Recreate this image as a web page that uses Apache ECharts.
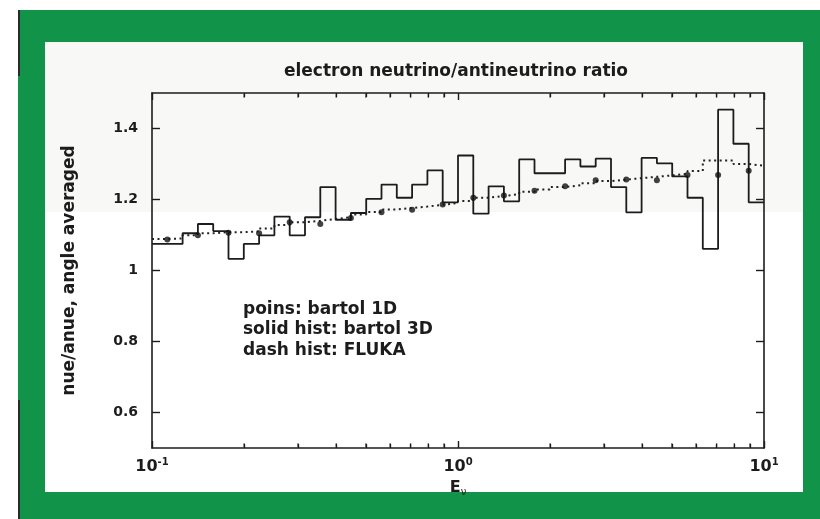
<!DOCTYPE html>
<html>
<head>
<meta charset="utf-8">
<script src="https://cdn.jsdelivr.net/npm/echarts@6/dist/echarts.min.js"></script>
<style>
  html, body { margin: 0; padding: 0; background: #ffffff; }
  #chart { width: 820px; height: 519px; }
</style>
</head>
<body>
<div id="chart"></div>
<script>
// Energy binning: 20 logarithmic bins per decade starting at 0.1
const lowEdge = 0.1;
const binsPerDecade = 20;

// Solid histogram: bartol 3D ratio per bin
const bartol3D = [
  1.075, 1.075, 1.105, 1.131, 1.111, 1.033, 1.075, 1.099, 1.152, 1.099,
  1.150, 1.235, 1.143, 1.162, 1.202, 1.242, 1.205, 1.242, 1.282, 1.192,
  1.324, 1.160, 1.237, 1.195, 1.313, 1.274, 1.274, 1.313, 1.293, 1.315,
  1.235, 1.164, 1.317, 1.302, 1.265, 1.205, 1.061, 1.453, 1.357, 1.192
];

// Dotted histogram: FLUKA ratio per bin
const fluka = [
  1.089, 1.090, 1.099, 1.105, 1.108, 1.108, 1.110, 1.118, 1.128, 1.136,
  1.140, 1.145, 1.150, 1.158, 1.165, 1.172, 1.176, 1.180, 1.185, 1.190,
  1.196, 1.205, 1.210, 1.215, 1.222, 1.228, 1.235, 1.240, 1.246, 1.252,
  1.256, 1.260, 1.264, 1.268, 1.272, 1.280, 1.310, 1.310, 1.300, 1.295
];

// Points: bartol 1D, one every two bins
const bartol1D = [
  1.087, 1.099, 1.106, 1.105, 1.136, 1.131, 1.148, 1.164, 1.171, 1.186,
  1.205, 1.211, 1.225, 1.237, 1.254, 1.256, 1.254, 1.269, 1.269, 1.281
];

// Axis ticks
const yTicks = [0.6, 0.8, 1, 1.2, 1.4];
const yMin = 0.5, yMax = 1.5;
const xMin = 0.1, xMax = 10;
const xMinorTicks = [0.2, 0.3, 0.4, 0.5, 0.6, 0.7, 0.8, 0.9, 2, 3, 4, 5, 6, 7, 8, 9];

const legendLines = ['poins: bartol 1D', 'solid hist: bartol 3D', 'dash hist: FLUKA'];

const FONT = 'DejaVu Sans';
const INK = '#1c1c1c';

function binEdge(k) {
  return lowEdge * Math.pow(10, k / binsPerDecade);
}

// Step data: left edge of every bin, plus the closing right edge
function stepData(values) {
  const out = values.map((v, k) => [binEdge(k), v]);
  out.push([binEdge(values.length), values[values.length - 1]]);
  return out;
}

const pointData = bartol1D.map((v, k) => [binEdge(2 * k + 1), v]);

// Minor log ticks: helper axes running over log10(E), each tied to a placeholder series
const minorTickExponents = xMinorTicks.map(v => Math.log10(v));

function minorTickAxis(position) {
  return {
    type: 'value',
    position: position,
    min: Math.log10(xMin), max: Math.log10(xMax),
    axisLine: { show: false },
    axisTick: { show: true, inside: true, length: 4, customValues: minorTickExponents, lineStyle: { color: INK, width: 1.3 } },
    axisLabel: { show: false },
    splitLine: { show: false }
  };
}

function helperAxisSeries(xIndex) {
  return {
    type: 'line',
    xAxisIndex: xIndex, yAxisIndex: 0,
    data: [[0, 1]],
    showSymbol: false,
    lineStyle: { opacity: 0 },
    silent: true
  };
}

// Short bars standing on the frame lines at the same minor positions
function minorTickMarks(yValue, offsetY) {
  return {
    type: 'scatter',
    xAxisIndex: 0, yAxisIndex: 0,
    data: xMinorTicks.map(v => [v, yValue]),
    symbol: 'rect',
    symbolSize: [1.3, 4],
    symbolOffset: [0, offsetY],
    itemStyle: { color: INK },
    silent: true,
    z: 6
  };
}

const chart = echarts.init(document.getElementById('chart'), null, { renderer: 'canvas' });

const axisLineStyle = { lineStyle: { color: INK, width: 1.6 } };

chart.setOption({
  animation: false,
  backgroundColor: '#ffffff',
  graphic: [
    { type: 'rect', z: -10, shape: { x: 18, y: 10, width: 802, height: 509 }, style: { fill: '#119449' } },
    { type: 'rect', z: -9, shape: { x: 45, y: 42, width: 758, height: 450 }, style: { fill: '#ffffff' } },
    { type: 'rect', z: -8, shape: { x: 45, y: 42, width: 758, height: 170 }, style: { fill: '#f8f8f6' } },
    { type: 'rect', z: -7, shape: { x: 18, y: 10, width: 2, height: 66 }, style: { fill: '#2a2a2a' } },
    { type: 'rect', z: -7, shape: { x: 18, y: 400, width: 2, height: 119 }, style: { fill: '#2a2a2a' } },
    {
      type: 'text', z: 10, x: 456, y: 63,
      style: { text: 'electron neutrino/antineutrino ratio', font: 'bold 17px "' + FONT + '"', fill: INK, textAlign: 'center', textVerticalAlign: 'top' }
    },
    {
      type: 'text', z: 10, x: 243, y: 299,
      style: { text: legendLines.join('\n'), font: 'bold 17px "' + FONT + '"', lineHeight: 20.5, fill: INK, textAlign: 'left', textVerticalAlign: 'top' }
    }
  ],
  grid: { left: 152, right: 56, top: 93, bottom: 71, containLabel: false },
  xAxis: [
    {
      type: 'log', logBase: 10, min: xMin, max: xMax, position: 'bottom',
      axisLine: axisLineStyle,
      axisTick: { inside: true, length: 7, lineStyle: { color: INK, width: 1.4 } },
      splitLine: { show: false },
      axisLabel: {
        margin: 9,
        formatter: function (v) {
          const e = Math.round(Math.log10(v));
          return '{b|10}{s|' + e + '}';
        },
        rich: {
          b: { fontFamily: FONT, fontWeight: 'bold', fontSize: 16, color: INK, verticalAlign: 'bottom', lineHeight: 18 },
          s: { fontFamily: FONT, fontWeight: 'bold', fontSize: 10, color: INK, verticalAlign: 'top', lineHeight: 10 }
        }
      },
      name: '{e|E}{n|ν}',
      nameLocation: 'middle',
      nameGap: 12,
      nameTextStyle: {
        rich: {
          e: { fontFamily: FONT, fontWeight: 'bold', fontSize: 16, color: INK, verticalAlign: 'top', lineHeight: 18 },
          n: { fontFamily: FONT, fontSize: 10, color: INK, verticalAlign: 'bottom', lineHeight: 10 }
        }
      }
    },
    {
      type: 'log', logBase: 10, min: xMin, max: xMax, position: 'top',
      axisLine: axisLineStyle,
      axisTick: { inside: true, length: 7, lineStyle: { color: INK, width: 1.4 } },
      axisLabel: { show: false },
      splitLine: { show: false }
    },
    minorTickAxis('bottom'),
    minorTickAxis('top')
  ],
  yAxis: [
    {
      type: 'value', min: yMin, max: yMax, position: 'left',
      axisLine: { show: true, onZero: false, lineStyle: { color: INK, width: 1.6 } },
      axisTick: { show: true, inside: true, length: 8, customValues: yTicks, lineStyle: { color: INK, width: 1.4 } },
      axisLabel: {
        customValues: yTicks, margin: 14,
        fontFamily: FONT, fontWeight: 'bold', fontSize: 14, color: INK,
        formatter: function (v) { return v === 1 ? '1' : v.toFixed(1); }
      },
      splitLine: { show: false },
      name: 'nue/anue, angle averaged',
      nameLocation: 'middle',
      nameGap: 74,
      nameTextStyle: { fontFamily: FONT, fontWeight: 'bold', fontSize: 17, color: INK }
    },
    {
      type: 'value', min: yMin, max: yMax, position: 'right',
      axisLine: { show: true, onZero: false, lineStyle: { color: INK, width: 1.6 } },
      axisTick: { show: true, inside: true, length: 8, customValues: yTicks, lineStyle: { color: INK, width: 1.4 } },
      axisLabel: { show: false },
      splitLine: { show: false }
    }
  ],
  series: [
    helperAxisSeries(2),
    helperAxisSeries(3),
    minorTickMarks(yMin + 0.002, -2),
    minorTickMarks(yMax - 0.002, 2),
    {
      name: 'dash hist: FLUKA',
      type: 'line', step: 'end',
      xAxisIndex: 0, yAxisIndex: 0,
      data: stepData(fluka),
      showSymbol: false,
      lineStyle: { color: '#222222', width: 2, type: [2, 3.5] },
      z: 3
    },
    {
      name: 'solid hist: bartol 3D',
      type: 'line', step: 'end',
      xAxisIndex: 0, yAxisIndex: 0,
      data: stepData(bartol3D),
      showSymbol: false,
      lineStyle: { color: INK, width: 1.8 },
      z: 4
    },
    {
      name: 'poins: bartol 1D',
      type: 'scatter',
      xAxisIndex: 0, yAxisIndex: 0,
      data: pointData,
      symbol: 'circle', symbolSize: 6,
      itemStyle: { color: '#111111' },
      z: 5
    }
  ]
});
</script>
</body>
</html>
